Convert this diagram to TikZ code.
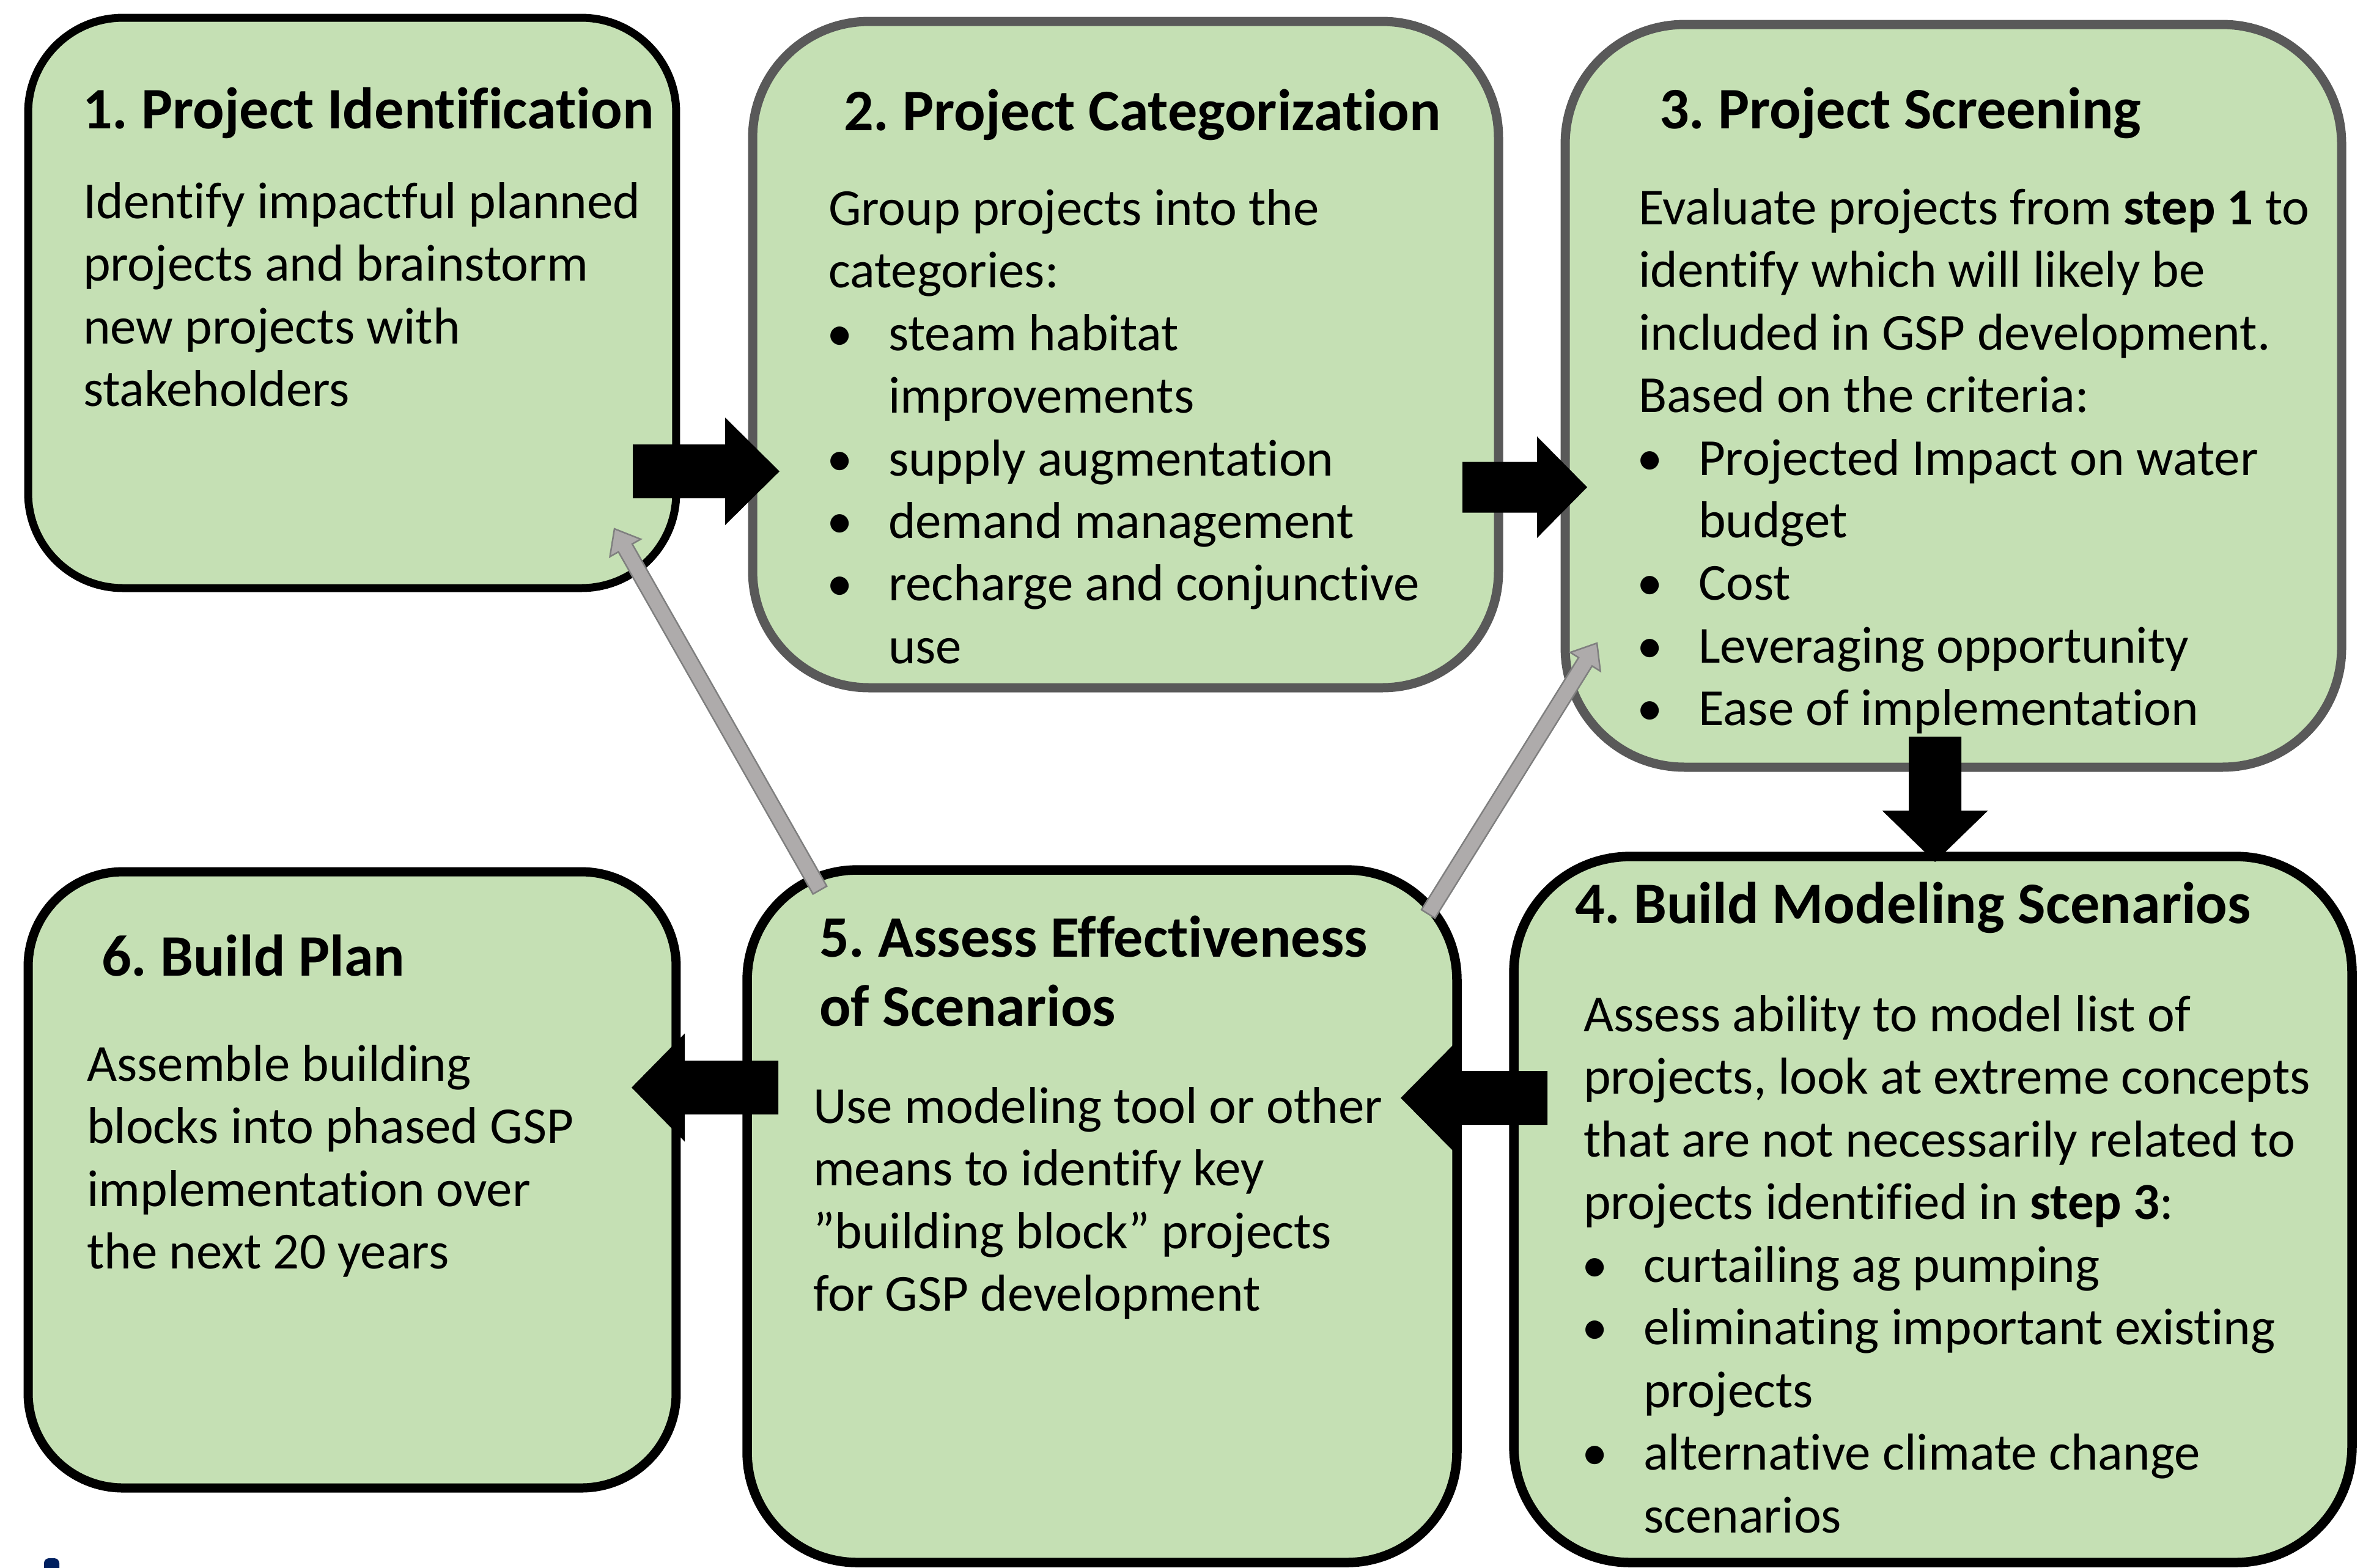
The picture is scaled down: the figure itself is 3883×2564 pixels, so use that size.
\documentclass[tikz,border=0pt]{standalone}
\usepackage{fontspec}
\setmainfont{Carlito}[Ligatures=NoCommon]
\usetikzlibrary{calc}
\frenchspacing
\definecolor{boxgreen}{HTML}{C5E0B4}
\definecolor{boxgray}{HTML}{595959}
\definecolor{arrgray}{HTML}{AEABAB}
\definecolor{arredge}{HTML}{7F7F7F}
\definecolor{logonavy}{HTML}{002060}
% #1 start, #2 tip, #3 shaft half width, #4 head half width, #5 head length, #6 style
\newcommand{\blockarrow}[6]{%
  \coordinate (tmpbase) at ($(#2)!#5!(#1)$);
  \path[#6] ($(#1)!#3!90:(#2)$) -- ($(tmpbase)!#3!90:(#2)$) -- ($(tmpbase)!#4!90:(#2)$)
    -- (#2) -- ($(tmpbase)!#4!-90:(#2)$) -- ($(tmpbase)!#3!-90:(#2)$) -- ($(#1)!#3!-90:(#2)$) -- cycle;
}
\newcommand{\tlines}[1]{\begin{tabular}[t]{@{}l@{}}#1\end{tabular}}
\newcommand{\bul}[1]{\makebox[9.8pt][l]{\hspace{-0.3pt}•}#1}
\newcommand{\ind}[1]{\hspace*{9.8pt}#1}
\tikzset{
  box/.style={draw, fill=boxgreen, inner sep=0pt, outer sep=0pt},
  greenbox/.style={box, draw=black},
  graybox/.style={box, draw=boxgray, line width=1.5pt},
  title/.style={anchor=base west, inner sep=0pt, font=\fontsize{9.62}{11.3}\selectfont\bfseries},
  body/.style={anchor=base west, inner sep=0pt, font=\fontsize{8.5}{10.25}\selectfont},
  blackarrow/.style={fill=black},
  grayarrow/.style={fill=arrgray, draw=arredge, line width=0.25pt, line join=miter},
}
\begin{document}
\begin{tikzpicture}[x=0.1pt,y=-0.1pt]
\useasboundingbox (0,0) rectangle (3883,2564);
% boxes
\node[greenbox, line width=1.3pt, rounded corners=15.5pt, minimum width=106pt, minimum height=93.3pt] (b1) at (576,495.5) {};
\node[graybox, rounded corners=19pt, minimum width=122pt, minimum height=109pt] (b2) at (1841,580) {};
\node[graybox, rounded corners=19.5pt, minimum width=127pt, minimum height=121.5pt] (b3) at (3195,647.5) {};
\node[greenbox, line width=1.55pt, rounded corners=19pt, minimum width=137.1pt, minimum height=115.5pt] (b4) at (3161.5,1978.5) {};
\node[greenbox, line width=1.55pt, rounded corners=18pt, minimum width=116.1pt, minimum height=113.3pt] (b5) at (1802.5,1989.5) {};
\node[greenbox, line width=1.5pt, rounded corners=15.5pt, minimum width=106pt, minimum height=100.8pt] (b6) at (576,1930) {};
% texts
\node[title] (t1) at (133,210) {1. Project Identification};
\node[body] (d1) at (134,357) {\tlines{Identify impactful planned\\projects and brainstorm\\new projects with\\stakeholders}};
\node[title] (t2) at (1378,213) {2. Project Categorization};
\node[body] (d2) at (1353,368) {\tlines{Group projects into the\\categories:\\\bul{steam habitat}\\\ind{improvements}\\\bul{supply augmentation}\\\bul{demand management}\\\bul{recharge and conjunctive}\\\ind{use}}};
\node[title] (t3) at (2712,210) {3. Project Screening};
\node[body] (d3) at (2678,367) {\tlines{Evaluate projects from \textbf{step 1} to\\identify which will likely be\\included in GSP development.\\Based on the criteria:\\\bul{Projected Impact on water}\\\ind{budget}\\\bul{Cost}\\\bul{Leveraging opportunity}\\\bul{Ease of implementation}}};
\node[title] (t4) at (2574,1510) {4. Build Modeling Scenarios};
\node[body] (d4) at (2588,1687) {\tlines{Assess ability to model list of\\projects, look at extreme concepts\\that are not necessarily related to\\projects identified in \textbf{step 3}:\\\bul{curtailing ag pumping}\\\bul{eliminating important existing}\\\ind{projects}\\\bul{alternative climate change}\\\ind{scenarios}}};
\node[title] (t5) at (1338,1565) {\tlines{5. Assess Effectiveness\\of Scenarios}};
\node[body] (d5) at (1328,1837) {\tlines{Use modeling tool or other\\means to identify key\\”building block” projects\\for GSP development}};
\node[title] (t6) at (164,1596) {6. Build Plan};
\node[body] (d6) at (140,1768) {\tlines{Assemble building\\blocks into phased GSP\\implementation over\\the next 20 years}};
% black block arrows
\coordinate (a12s) at (1035,771);  \coordinate (a12t) at (1275,771);
\coordinate (a23s) at (2392,797);  \coordinate (a23t) at (2596,797);
\coordinate (a34s) at (3165,1205); \coordinate (a34t) at (3165,1410);
\coordinate (a45s) at (2531,1796); \coordinate (a45t) at (2291,1796);
\coordinate (a56s) at (1273,1779); \coordinate (a56t) at (1033,1779);
\blockarrow{a12s}{a12t}{4.4pt}{8.8pt}{8.9pt}{blackarrow}
\blockarrow{a23s}{a23t}{4.15pt}{8.3pt}{8.2pt}{blackarrow}
\blockarrow{a34s}{a34t}{4.3pt}{8.65pt}{8.4pt}{blackarrow}
\blockarrow{a45s}{a45t}{4.4pt}{8.9pt}{8.8pt}{blackarrow}
\blockarrow{a56s}{a56t}{4.4pt}{8.85pt}{8.7pt}{blackarrow}
% gray feedback arrows
\coordinate (g51s) at (1341,1456); \coordinate (g51t) at (1005,865);
\coordinate (g53s) at (2336,1495); \coordinate (g53t) at (2612,1052);
\blockarrow{g51s}{g51t}{1.3pt}{2.9pt}{3.6pt}{grayarrow}
\blockarrow{g53s}{g53t}{1.3pt}{2.9pt}{3.6pt}{grayarrow}
% cut-off logo mark
\fill[logonavy, rounded corners=0.8pt] (72,2549) rectangle (97,2600);
\end{tikzpicture}
\end{document}
